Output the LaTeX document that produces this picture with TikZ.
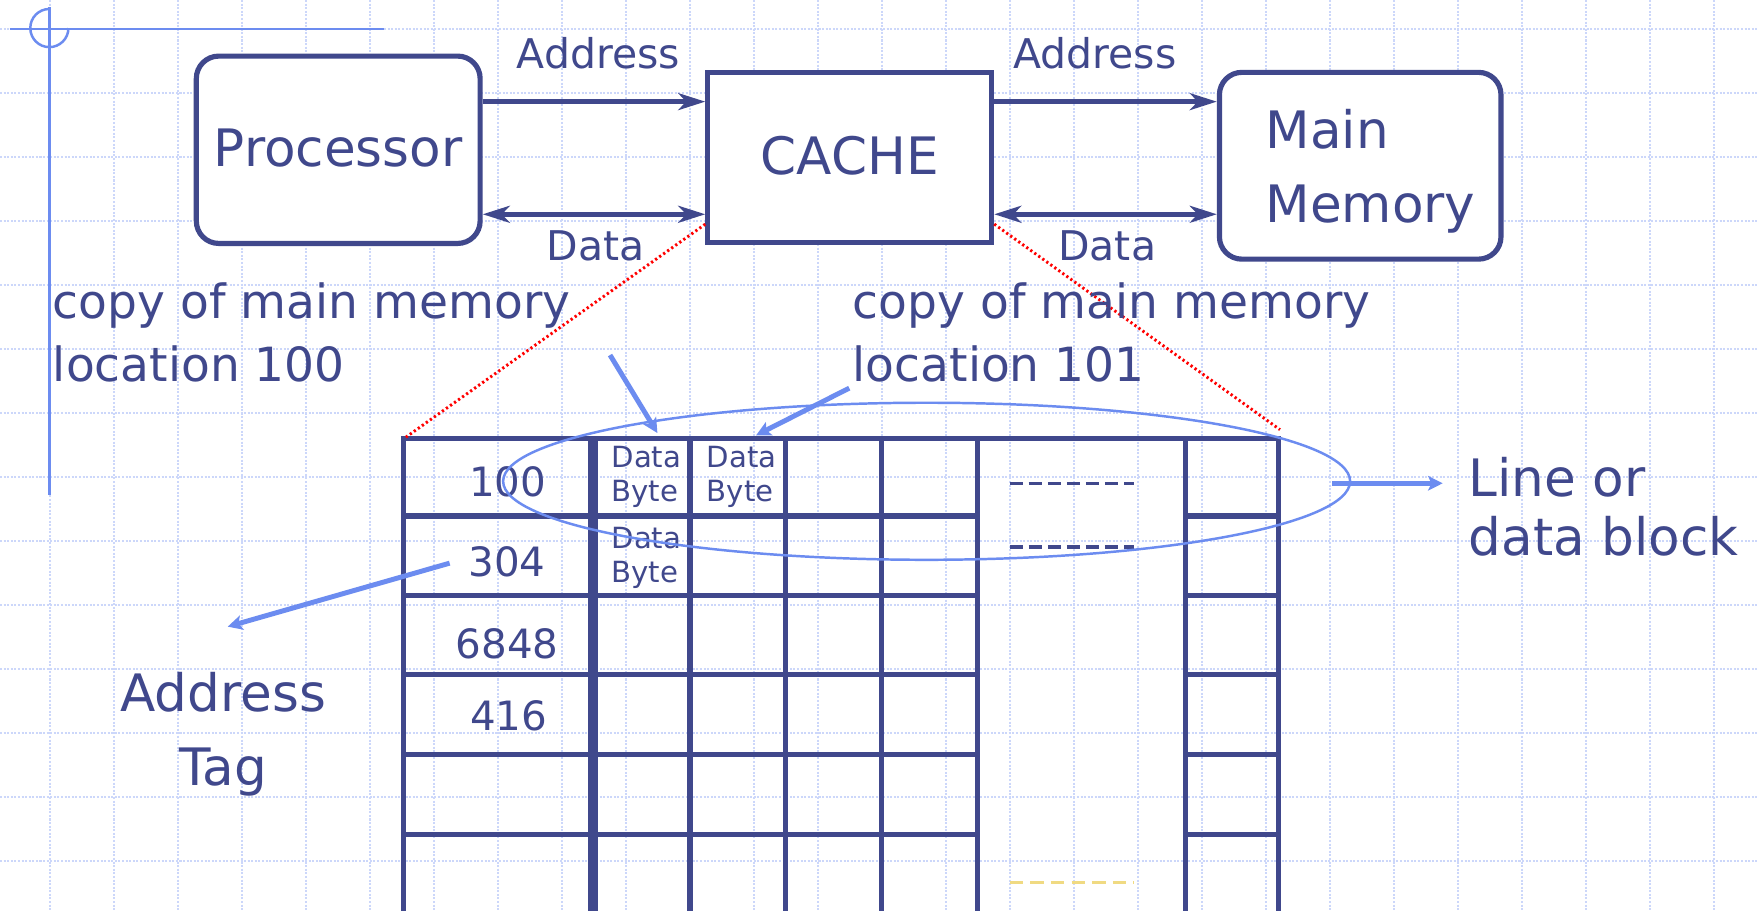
\documentclass[tikz,border=0pt]{standalone}
\usepackage{fontspec}
\setmainfont{DejaVu Sans}
\usetikzlibrary{arrows.meta,calc,shapes.geometric}
\definecolor{dblue}{RGB}{64,72,140}
\definecolor{lblue}{RGB}{108,140,240}
\definecolor{gridc}{RGB}{204,215,250}
\definecolor{dashy}{RGB}{240,218,130}
\tikzset{
  bigtip/.tip={Stealth[length=24pt,width=15pt,inset=7pt]},
  smalltip/.tip={Stealth[length=13pt,width=13pt,inset=3pt]}
}
\begin{document}
\begin{tikzpicture}[x=1pt,y=-1pt,
  box/.style={draw=dblue, line width=4.6pt, fill=white, text=dblue, font=\fontsize{46}{55}\selectfont, inner sep=0pt},
  txtS/.style={text=dblue, inner sep=0pt, font=\fontsize{26}{30.5}\selectfont},
  txtM/.style={text=dblue, inner sep=0pt, font=\fontsize{36.5}{44}\selectfont},
  txtC/.style={text=dblue, inner sep=0pt, font=\fontsize{42}{56.2}\selectfont},
  txtL/.style={text=dblue, inner sep=0pt, font=\fontsize{46}{66}\selectfont},
  bus/.style={draw=dblue, line width=4.6pt},
  hint/.style={draw=lblue, line width=4.4pt, -{smalltip}},
  tline/.style={draw=dblue, line width=4.6pt},
  sepline/.style={draw=dblue, line width=9pt},
  gridline/.style={draw=gridc, line width=1.5pt, dash pattern=on 1.8pt off 1.4pt},
  deco/.style={draw=lblue, line width=2.2pt},
  redlink/.style={draw=red, line width=2.6pt, dash pattern=on 2pt off 2.4pt},
  dotrow/.style={draw=dblue, line width=2.7pt, dash pattern=on 11.5pt off 5.5pt},
  dotrowy/.style={draw=dashy, line width=2.6pt, dash pattern=on 11.9pt off 6.5pt}
]
% background and bounding box
\fill[white] (0,0) rectangle (1568,812);
\useasboundingbox (0,0) rectangle (1568,812);
% grid
\foreach \k in {0,...,26} {\draw[gridline] ({44.3+57.05*\k},0) -- ({44.3+57.05*\k},812);}
\foreach \k in {0,...,13} {\draw[gridline] (0,{26.1+57.05*\k}) -- (1568,{26.1+57.05*\k});}
% slide decoration
\draw[deco] (8.5,26) -- (342,26);
\draw[deco] (44,6.5) -- (44,441);
\draw[deco] (44,8) arc[start angle=270, end angle=0, radius=17];

% top boxes
\node[box, rounded corners=20pt, minimum width=253pt, minimum height=167pt] (proc) at (301.5,133.5) {\raisebox{4pt}{Processor}};
\node[box, minimum width=253pt, minimum height=152pt] (cache) at (757.5,140.5) {\raisebox{4.5pt}{CACHE}};
\node[box, rounded corners=20pt, minimum width=251pt, minimum height=166.5pt] (mem) at (1212.5,147.75) {};
\node[txtL, anchor=base west, align=left] (memtxt) at (1128,198) {Main\\Memory};

% buses
\coordinate (ya) at (0,90.6);
\coordinate (yd) at (0,191);
\draw[bus, -{bigtip}] (proc.east |- ya) -- (cache.west |- ya);
\draw[bus, {bigtip}-{bigtip}] (proc.east |- yd) -- (cache.west |- yd);
\draw[bus, -{bigtip}] (cache.east |- ya) -- (mem.west |- ya);
\draw[bus, {bigtip}-{bigtip}] (cache.east |- yd) -- (mem.west |- yd);
\node[txtM, anchor=base] (addr1) at (533.5,61.5) {Address};
\node[txtM, anchor=base] (addr2) at (976,61.5) {Address};
\node[txtM, anchor=base] (data1) at (531,231.8) {Data};
\node[txtM, anchor=base] (data2) at (987,231.8) {Data};

% table
\coordinate (tl) at (360,391);
\coordinate (tr) at (1140,391);
\coordinate (rr) at (1141,383);
\draw[tline, line cap=rect] (tl) -- (tr);
\foreach \y in {460,530.5,601.5,672.5,743.5} {
  \draw[tline] (360,\y) -- (871,\y);
  \draw[tline] (1057,\y) -- (1140,\y);
}
\foreach \x in {360,615,700,786,871,1057,1140} {\draw[tline] (\x,391) -- (\x,812);}
\draw[sepline] (529,391) -- (529,812);
\draw[dotrow] (900,430.8) -- (1011,430.8);
\draw[dotrow] (900,487.6) -- (1011,487.6);
\draw[dotrowy] (900,787) -- (1011,787);

% table texts
\node[txtM, font=\fontsize{36}{44}\selectfont, anchor=base] (t1) at (452.7,443) {100};
\node[txtM, font=\fontsize{36}{44}\selectfont, anchor=base] (t2) at (452,514) {304};
\node[txtM, font=\fontsize{36}{44}\selectfont, anchor=base] (t3) at (452,587) {6848};
\node[txtM, font=\fontsize{36}{44}\selectfont, anchor=base] (t4) at (453.5,651) {416};
\node[txtS, anchor=base west, align=left] (db1) at (545,447) {Data\\Byte};
\node[txtS, anchor=base west, align=left] (db2) at (630,447) {Data\\Byte};
\node[txtS, anchor=base west, align=left] (db3) at (545,519) {Data\\Byte};

% line / data block ellipse
\node[ellipse, draw=lblue, line width=2.2pt, minimum width=755pt, minimum height=140pt, inner sep=0pt] (blk) at (826,429) {};

% red dotted links
\draw[redlink] ($(cache.south west)+(0,-19)$) -- (tl);
\draw[redlink] ($(cache.south east)+(0,-19)$) -- (rr);

% annotations
\node[txtC, anchor=base west, align=left] (copy1) at (47,340) {copy of main memory\\location 100};
\node[txtC, anchor=base west, align=left] (copy2) at (760,340) {copy of main memory\\location 101};
\node[txtL, anchor=base, align=center] (tag) at (199,700) {Address\\Tag};
\node[txtL, font=\fontsize{46}{52}\selectfont, anchor=base west, align=left] (lineor) at (1309,495) {Line or\\data block};

\coordinate (c1s) at (543.8,316.5);
\coordinate (c1e) at (586,386);
\coordinate (c2s) at (757,346);
\coordinate (c2e) at (674,388);
\coordinate (tgs) at (400.8,502);
\coordinate (tge) at (203,558.6);
\coordinate (lne) at (1286,430.8);
\draw[hint] (c1s) -- (c1e);
\draw[hint] (c2s) -- (c2e);
\draw[hint] (tgs) -- (tge);
\draw[hint] ($(blk.east)+(-17,1.8)$) -- (lne);
\end{tikzpicture}
\end{document}
